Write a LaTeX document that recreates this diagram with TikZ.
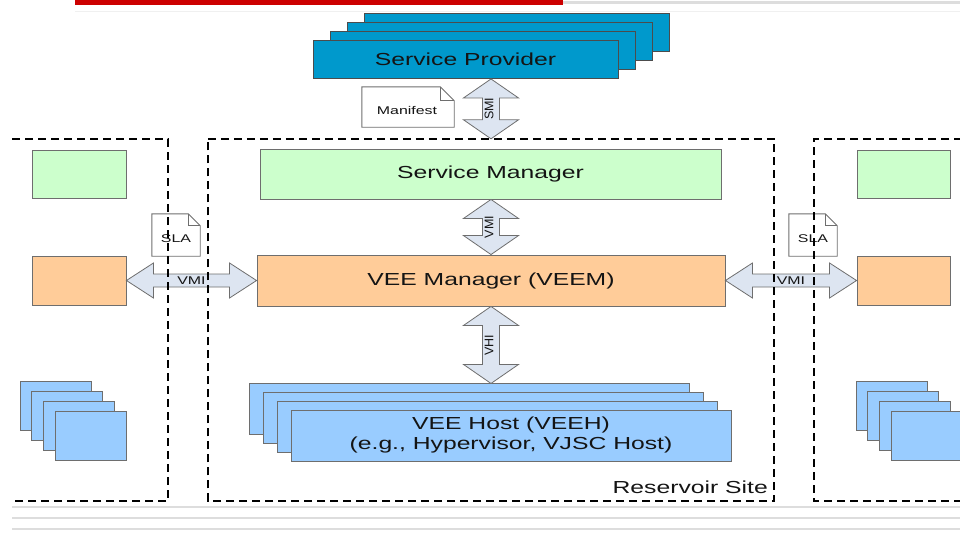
\documentclass[tikz,border=0pt]{standalone}
\usepackage{fontspec}
\setmainfont{Liberation Sans}
\usetikzlibrary{calc}

% horizontally stretched lettering used throughout the figure
\newcommand\wide[1]{\scalebox{1.42}[1]{#1}}

\definecolor{spblue}{HTML}{0099CC}
\definecolor{hostblue}{HTML}{99CCFF}
\definecolor{mgrgreen}{HTML}{CCFFCC}
\definecolor{veeorange}{HTML}{FFCC99}
\definecolor{arrowfill}{HTML}{DDE5F1}
\definecolor{boxline}{HTML}{6E6E6E}
\definecolor{inktext}{HTML}{141414}
\definecolor{slidered}{HTML}{CC0000}
\definecolor{rulegray}{HTML}{DDDDDD}

% vertical block arrow with a head at both ends, from #1 (top) to #2 (bottom)
\newcommand\vdarrow[2]{%
  \draw[dblarrow] let \p1=(#1), \p2=(#2) in
    (\x1,\y1) -- (\x1+27.5pt,\y1-19pt) -- (\x1+8.5pt,\y1-19pt)
    -- (\x1+8.5pt,\y2+19pt) -- (\x1+27.5pt,\y2+19pt) -- (\x1,\y2)
    -- (\x1-27.5pt,\y2+19pt) -- (\x1-8.5pt,\y2+19pt)
    -- (\x1-8.5pt,\y1-19pt) -- (\x1-27.5pt,\y1-19pt) -- cycle;}

% horizontal block arrow with a head at both ends, from #1 (left) to #2 (right)
\newcommand\hdarrow[2]{%
  \draw[dblarrow] let \p1=(#1), \p2=(#2) in
    (\x1,\y1) -- (\x1+27pt,\y1+17.5pt) -- (\x1+27pt,\y1+6.5pt)
    -- (\x2-27pt,\y1+6.5pt) -- (\x2-27pt,\y1+17.5pt) -- (\x2,\y1)
    -- (\x2-27pt,\y1-17.5pt) -- (\x2-27pt,\y1-6.5pt)
    -- (\x1+27pt,\y1-6.5pt) -- (\x1+27pt,\y1-17.5pt) -- cycle;}

% sheet of paper with a folded top-right corner around node #1, fold size #2
\newcommand\docsheet[2]{%
  \draw[docline,fill=white] (#1.north west) -- ([xshift=-#2]#1.north east)
    -- ([yshift=-#2]#1.north east) -- (#1.south east) -- (#1.south west) -- cycle;
  \draw[docline] ([xshift=-#2]#1.north east) -- ([xshift=-#2,yshift=-#2]#1.north east)
    -- ([yshift=-#2]#1.north east);}

\begin{document}
\begin{tikzpicture}[x=1pt,y=-1pt,
  bigfont/.style={font=\fontsize{17.4}{20}\selectfont},
  smallfont/.style={font=\fontsize{11.2}{13}\selectfont},
  box/.style={draw=boxline,line width=0.9pt,inner sep=0pt,text=inktext,bigfont},
  spbox/.style={box,draw=black!70,fill=spblue,minimum width=305pt,minimum height=38pt},
  mgrbox/.style={box,fill=mgrgreen},
  veebox/.style={box,fill=veeorange},
  hostbox/.style={box,fill=hostblue,minimum width=440pt,minimum height=51pt},
  minibox/.style={box,fill=hostblue,minimum width=71pt,minimum height=49pt},
  docframe/.style={inner sep=0pt},
  docline/.style={draw=boxline,line width=0.9pt},
  doclabel/.style={text=inktext,smallfont,inner sep=0pt},
  dblarrow/.style={draw=boxline,line width=0.8pt,fill=arrowfill,line join=miter},
  arrowlabel/.style={text=inktext,font=\fontsize{12.5}{14}\selectfont,inner sep=0pt},
  sitedash/.style={draw=black,line width=1.5pt,dash pattern=on 8pt off 5pt},
  slide rule/.style={draw=rulegray,line width=2.5pt},
]
\useasboundingbox (0,0) rectangle (960,535);

% slide decoration: title bar and footer rules
\fill[slidered] (75,0) rectangle (563,5.5);
\draw[rulegray,line width=3pt] (563,3) -- (960,3);
\draw[black!6,line width=1pt] (75,12) -- (960,12);
\foreach \ry in {507,518,529} \draw[slide rule] (12,\ry) -- (960,\ry);

% frame of the central reservoir site (its dashed border is drawn at the end)
\node[inner sep=0pt,minimum width=566pt,minimum height=362pt] (site) at (491,320) {};

% service provider stack
\foreach \i in {3,2,1}
  \node[spbox] (sp\i) at (465.5+17*\i,59.5-9*\i) {};
\node[spbox] (sp) at (465.5,59.5) {\wide{Service Provider}};

% manifest sheet
\node[docframe,minimum width=92pt,minimum height=40pt] (manifest) at (408,107) {};
\docsheet{manifest}{14pt}
\node[doclabel] (manifestlbl) at (407,110.5) {\wide{Manifest}};

% central reservoir site
\node[mgrbox,minimum width=461pt,minimum height=50pt] (sm) at (490.5,174) {\wide{Service Manager}};
\node[veebox,minimum width=468pt,minimum height=51pt] (veem) at (491,280.5) {\wide{VEE Manager (VEEM)}};
\foreach \i in {3,2,1}
  \node[hostbox] (host\i) at (511-13.7*\i,435.5-8.7*\i) {};
\node[hostbox] (host) at (511,435.5)
  {\wide{\begin{tabular}{@{}c@{}}VEE Host (VEEH)\\(e.g., Hypervisor, VJSC Host)\end{tabular}}};

% neighbouring sites (left and right)
\node[mgrbox,minimum width=94pt,minimum height=48pt] (lsm) at (79,174) {};
\node[veebox,minimum width=94pt,minimum height=49pt] (lveem) at (79,280.5) {};
\node[mgrbox,minimum width=93pt,minimum height=48pt] (rsm) at (903.5,174) {};
\node[veebox,minimum width=93pt,minimum height=49pt] (rveem) at (903.5,280.5) {};
\foreach \i in {0,1,2,3} {
  \node[minibox] (lhost\i) at (55.5+11.7*\i,405.5+10*\i) {};
  \node[minibox] (rhost\i) at (891.5+11.7*\i,405.5+10*\i) {};
}

% SLA sheets
\node[docframe,minimum width=48pt,minimum height=42pt] (lsla) at (176,235) {};
\docsheet{lsla}{12pt}
\node[doclabel] (lslalbl) at (176,238.5) {\wide{SLA}};
\node[docframe,minimum width=48pt,minimum height=42pt] (rsla) at (813,235) {};
\docsheet{rsla}{12pt}
\node[doclabel] (rslalbl) at (813,238.5) {\wide{SLA}};

% interface arrows
\coordinate (smitop) at (sp.south -| veem.north);
\coordinate (smibot) at (site.north -| veem.north);
\vdarrow{smitop}{smibot}
\node[arrowlabel,rotate=90] (smilbl) at ($(smitop)!0.5!(smibot)+(-2,0)$) {SMI};

\coordinate (vmitop) at (sm.south -| veem.north);
\vdarrow{vmitop}{veem.north}
\node[arrowlabel,rotate=90] (vmilbl) at ($(vmitop)!0.5!(veem.north)+(-2,0)$) {VMI};

\coordinate (vhibot) at (veem.south |- host3.north);
\vdarrow{veem.south}{vhibot}
\node[arrowlabel,rotate=90] (vhilbl) at ($(veem.south)!0.5!(vhibot)+(-2,0)$) {VHI};

\hdarrow{lveem.east}{veem.west}
\node[doclabel] (lvmilbl) at ($(lveem.east)!0.5!(veem.west)$) {\wide{VMI}};
\hdarrow{veem.east}{rveem.west}
\node[doclabel] (rvmilbl) at ($(veem.east)!0.5!(rveem.west)$) {\wide{VMI}};

% site borders, drawn last so they run over everything
\draw[sitedash] (site.north west) -- (site.north east) -- (site.south east)
  -- (site.south west) -- cycle;
\node[anchor=base east,text=inktext,bigfont,inner sep=0pt] (sitelbl) at (768,493) {\wide{Reservoir Site}};
\draw[sitedash] (12,139) -- (168,139) -- (168,501) -- (12,501);
\draw[sitedash] (962,139) -- (814,139) -- (814,501) -- (962,501);
\end{tikzpicture}
\end{document}
